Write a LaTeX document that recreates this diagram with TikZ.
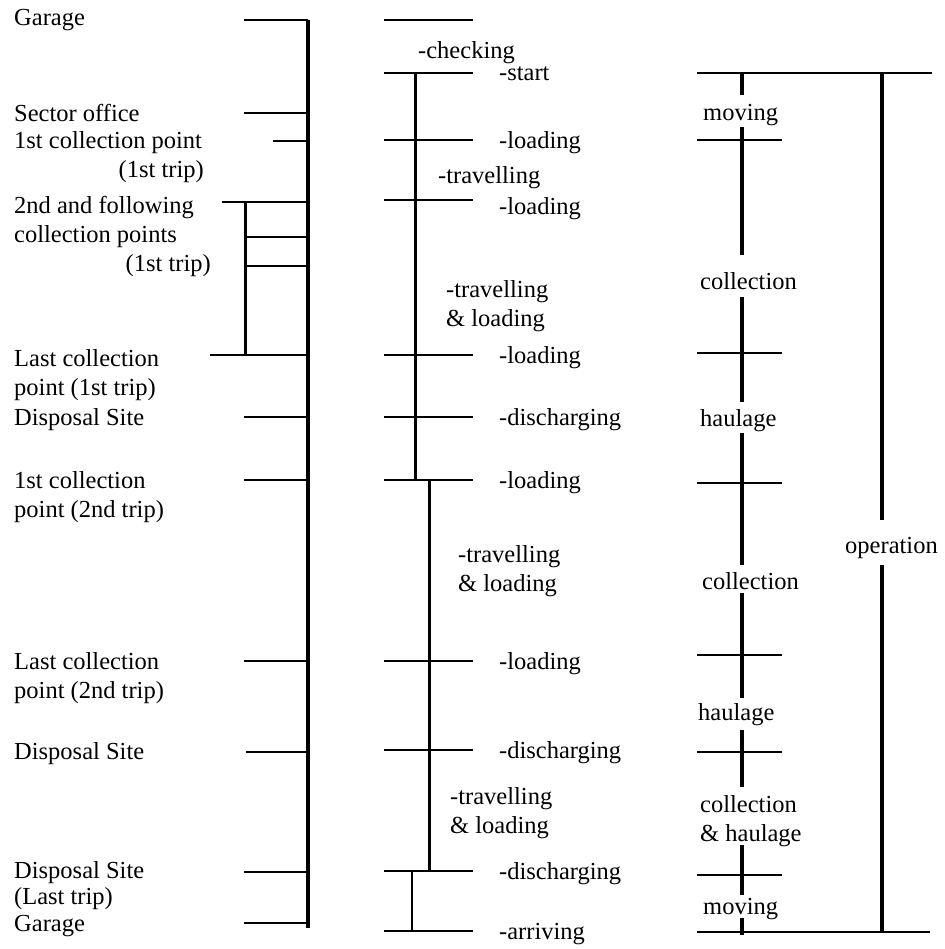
\documentclass[tikz,border=0pt]{standalone}
\usepackage{fontspec}
\setmainfont{Liberation Serif}
\usepackage{tikz}

\begin{document}
\begin{tikzpicture}[x=1pt, y=-1pt,
  tickline/.style={line width=1.3pt},
  barline/.style={line width=3.5pt},
  lab/.style={anchor=base west, inner sep=0pt, align=left,
    font=\fontsize{24.5}{29}\selectfont}]
\useasboundingbox (0,0) rectangle (944,949);
\fill[white] (0,0) rectangle (944,949);
% stops
\draw[barline] (308,20) -- (308,928);
\foreach \y/\l in {20/244,113/244,141/273,202/222,237/245,266/245,355/210,
  417/244,480/244,661/244,752/246,872/244,923/244}
  \draw[tickline] (\l,\y) -- (308,\y);
\draw[barline, line width=3pt] (245,202) -- (245,355);
\node[lab] (garage1) at (14,26) {Garage};
\node[lab] (sector) at (14,122) {Sector office};
\node[lab] (coll1) at (14,149) {1st collection point};
\node[lab, anchor=base east] (trip1) at (204,178) {(1st trip)};
\node[lab] (follow) at (14,243) {2nd and following\\collection points};
\node[lab, anchor=base east] (trip2) at (211,272) {(1st trip)};
\node[lab] (lastcoll1) at (14,395) {Last collection\\point (1st trip)};
\node[lab] (disp1) at (14,425) {Disposal Site};
\node[lab] (coll2) at (14,517) {1st collection\\point (2nd trip)};
\node[lab] (lastcoll2) at (14,698) {Last collection\\point (2nd trip)};
\node[lab] (disp2) at (14,759) {Disposal Site};
\node[lab] (disp3) at (14,904) {Disposal Site\\[-3pt](Last trip)};
\node[lab] (garage2) at (14,931) {Garage};
% activities
\foreach \y in {20,73,140,200,355,417,480,661,750,871,931}
  \draw[tickline] (384,\y) -- (473,\y);
\draw[barline, line width=3pt] (415,73) -- (415,480);
\draw[barline, line width=3pt] (429,480) -- (429,871);
\draw[tickline] (412,871) -- (412,931);
\node[lab] (checking) at (418,59) {-checking};
\node[lab] (start) at (499,81) {-start};
\node[lab] (load1) at (499,149) {-loading};
\node[lab] (trav1) at (438,184) {-travelling};
\node[lab] (load2) at (499,215) {-loading};
\node[lab] (trav2) at (446,326) {-travelling\\\& loading};
\node[lab] (load3) at (499,363) {-loading};
\node[lab] (dis1) at (499,425) {-discharging};
\node[lab] (load4) at (499,488) {-loading};
\node[lab] (trav3) at (458,591) {-travelling\\\& loading};
\node[lab] (load5) at (499,669) {-loading};
\node[lab] (dis2) at (499,758) {-discharging};
\node[lab] (trav4) at (450,833) {-travelling\\\& loading};
\node[lab] (dis3) at (499,879) {-discharging};
\node[lab] (arr) at (499,939) {-arriving};
% phases
\draw[tickline] (697,73) -- (932,73);
\draw[tickline] (697,932) -- (930,932);
\foreach \y in {140,353,483,655,752,875}
  \draw[tickline] (697,\y) -- (782,\y);
\foreach \a/\b in {73/95,127/255,297/402,433/565,593/698,730/787,845/895,918/935}
  \draw[barline] (742,\a) -- (742,\b);
\draw[barline] (882,73) -- (882,520);
\draw[barline] (882,565) -- (882,932);
\node[lab] (moving1) at (703,121) {moving};
\node[lab] (collect1) at (700,289) {collection};
\node[lab] (haul1) at (700,426) {haulage};
\node[lab] (collect2) at (702,589) {collection};
\node[lab] (haul2) at (698,720) {haulage};
\node[lab] (collhaul) at (700,841) {collection\\\& haulage};
\node[lab] (moving2) at (703,914) {moving};
\node[lab] (oper) at (845,553) {operation};
\end{tikzpicture}
\end{document}
